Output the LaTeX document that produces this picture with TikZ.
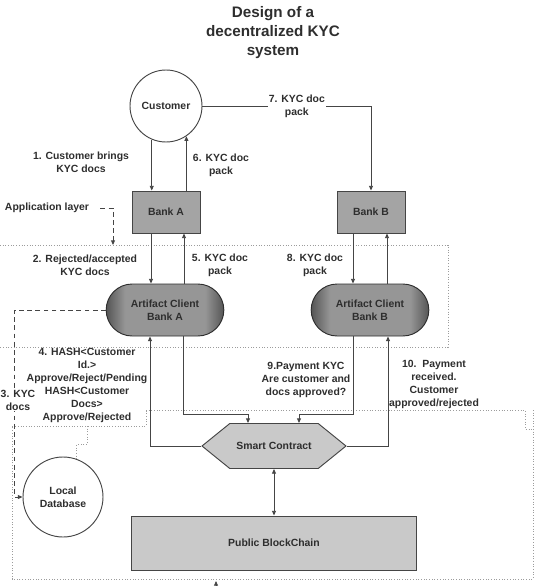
\documentclass[tikz,border=0pt]{standalone}
\usepackage{fontspec}
\setmainfont{Liberation Sans}
\usepackage{xcolor}
\usetikzlibrary{arrows.meta,positioning,shapes.geometric,shapes.misc,shapes.symbols,calc}

\definecolor{linegray}{HTML}{454545}
\definecolor{bankgray}{HTML}{A4A4A4}
\definecolor{paleGray}{HTML}{C9C9C9}
\definecolor{clientdark}{HTML}{555555}
\definecolor{clientmid}{HTML}{969696}
\definecolor{txtgray}{HTML}{2E2E2E}
\definecolor{dotgray}{HTML}{9C9C9C}

\pgfdeclarehorizontalshading{clientshade}{100bp}{color(0bp)=(clientdark); color(25bp)=(clientdark); color(33bp)=(clientmid); color(67bp)=(clientmid); color(75bp)=(clientdark); color(100bp)=(clientdark)}

\tikzset{
  lbl/.style={font=\fontsize{8.9}{11.1}\selectfont\bfseries, text=txtgray, align=center, inner sep=1pt},
  ttl/.style={font=\fontsize{13}{16.2}\selectfont\bfseries, text=txtgray, align=center},
  flow/.style={draw=linegray, line width=0.7pt, -{Triangle[length=4pt,width=3.4pt]}},
  biflow/.style={draw=linegray, line width=0.7pt, {Triangle[length=4pt,width=3.4pt]}-{Triangle[length=4pt,width=3.4pt]}},
  dasharr/.style={draw=linegray, line width=0.8pt, dash pattern=on 4pt off 3pt, -{Triangle[length=4pt,width=3.4pt]}},
  dotline/.style={draw=dotgray, line width=0.6pt, dash pattern=on 0.7pt off 1.6pt},
  person/.style={circle, draw=linegray, line width=0.8pt, fill=white, minimum size=2.16cm, lbl},
  bank/.style={rectangle, draw=linegray, line width=0.8pt, fill=bankgray, minimum width=2.04cm, minimum height=1.26cm, lbl},
  client/.style={rounded rectangle, draw=txtgray, line width=0.8pt, shading=clientshade, minimum width=3.6cm, minimum height=1.56cm, lbl},
  contract/.style={signal, signal to=west and east, signal pointer angle=78, draw=linegray, line width=0.8pt, fill=paleGray, minimum width=4.32cm, minimum height=1.35cm, lbl},
  chainbox/.style={rectangle, draw=linegray, line width=0.8pt, fill=paleGray, minimum width=8.55cm, minimum height=1.62cm, lbl}
}

\begin{document}
\begin{tikzpicture}[x=0.03cm,y=-0.03cm]
    \useasboundingbox (0,0) rectangle (546,586);

    % Title
    \node[ttl] (title) at (273,33) {Design of a\\decentralized KYC\\system};

    % Layer boxes
    \draw[dotline] (0,245) -- (448,245) -- (448,347) -- (0,347);
    \draw[dotline] (146,410) -- (525,410) -- (525,429) -- (533,429);
    \draw[dotline] (533,410) -- (533,579) -- (12,579) -- (12,426) -- (146,426) -- (146,410);

    % Main nodes
    \node[person] (cust) at (166,106) {Customer};
    \node[bank] (bankA) at (166,212) {Bank A};
    \node[bank] (bankB) at (371,212) {Bank B};
    \node[client] (artA) at (165,310) {Artifact Client\\Bank A};
    \node[client] (artB) at (370,310) {Artifact Client\\Bank B};
    \node[contract] (sc) at (274,446) {Smart Contract};
    \node[chainbox] (chain) at (274,543) {Public BlockChain};
    \node[person, minimum size=2.4cm] (db) at (63,497) {Local\\Database};

    % Customer <-> banks
    \draw[flow] (cust.247) -- (cust.247 |- bankA.north);
    \draw[flow] (cust.304 |- bankA.north) -- (cust.304);
    \draw[flow] (cust.east) -| node[lbl, fill=white, pos=0.28] (lbl7) {7. KYC doc\\pack} (bankB.north);
    \node[lbl] (lbl1) at (81,162) {1. Customer brings\\KYC docs};
    \node[lbl] (lbl6) at (221,165) {6. KYC doc\\pack};

    % Application layer marker
    \node[lbl] (applbl) at (47,208) {Application layer};
    \coordinate (applay) at (113,245);
    \draw[dasharr] ([xshift=0.3cm]applbl.east) -| (applay);

    % Banks <-> artifact clients
    \draw[flow] ($(bankA.south)+(-15,0)$) -- ($(artA.north)+(-14,0)$);
    \draw[flow] ($(artA.north)+(19,0)$) -- ($(bankA.south)+(18,0)$);
    \draw[flow] ($(bankB.south)+(-18,0)$) -- ($(artB.north)+(-17,0)$);
    \draw[flow] ($(artB.north)+(17,0)$) -- ($(bankB.south)+(16,0)$);
    \node[lbl] (lbl2) at (85,265) {2. Rejected/accepted\\KYC docs};
    \node[lbl] (lbl5) at (220,265) {5. KYC doc\\pack};
    \node[lbl] (lbl8) at (315,265) {8. KYC doc\\pack};

    % Local database
    \draw[dasharr] (artA.west) -| ($(db.west)+(-8,0)$) -- (db.west);
    \node[lbl, fill=white] (lbl3) at (18,400) {3. KYC\\docs};
    \draw[dotline] (87,426) |- ($(db.71)+(0,-14)$) -- (db.71);

    % Artifact clients <-> smart contract
    \draw[flow] (sc.west) -| ($(artA.south)+(-15,0)$);
    \draw[flow] ($(artA.south)+(18,0)$) -- ++(0,78) -| ($(sc.north)+(-26,0)$);
    \draw[flow] ($(artB.south)+(-17,0)$) -- ++(0,78) -| ($(sc.north)+(25,0)$);
    \draw[flow] (sc.east) -| ($(artB.south)+(18,0)$);
    \node[lbl] (lbl4) at (87,385) {4. HASH<Customer\\Id.>\\Approve/Reject/Pending\\HASH<Customer\\Docs>\\Approve/Rejected};
    \node[lbl] (lbl9) at (306,380) {9.Payment KYC\\Are customer and\\docs approved?};
    \node[lbl] (lbl10) at (434,384) {10.\ \ Payment\\received.\\Customer\\approved/rejected};

    % Smart contract <-> blockchain
    \draw[biflow] (sc.south) -- (chain.north);

    % Feed from below
    \coordinate (feedin) at (216,581);
    \draw[flow] (216,600) -- (feedin);
\end{tikzpicture}
\end{document}
